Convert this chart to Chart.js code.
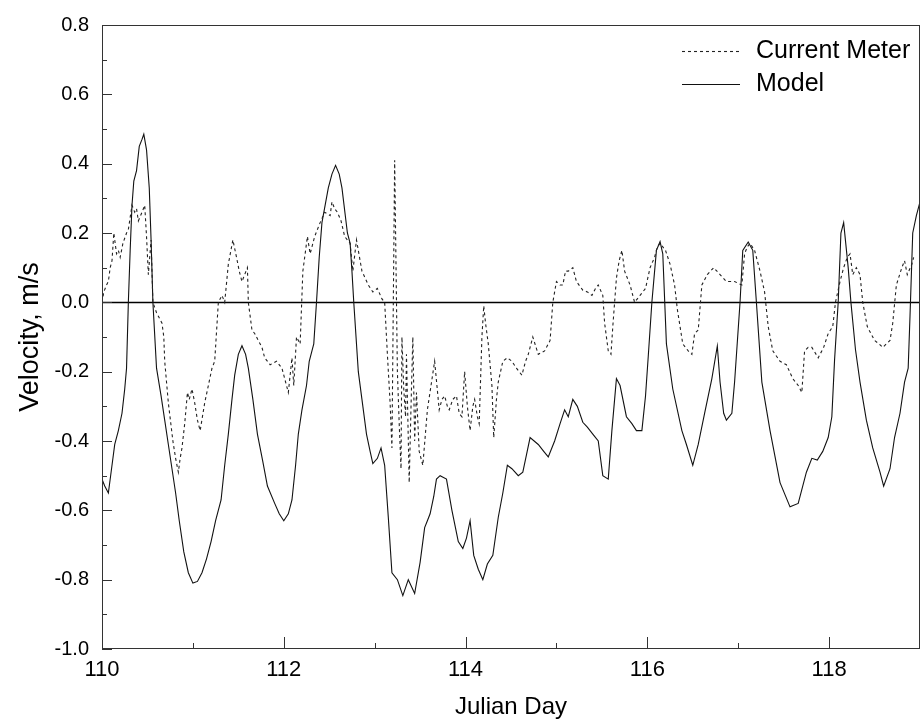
<!DOCTYPE html>
<html><head><meta charset="utf-8">
<script src="https://cdn.jsdelivr.net/npm/chart.js@4.4.1/dist/chart.umd.min.js"></script>
<style>html,body{margin:0;padding:0;background:#fff;}#wrap{width:923px;height:724px;}</style>
</head><body><div id="wrap"><canvas id="c" width="923" height="724"></canvas></div>
<script>
const seriesNames = ['Current Meter', 'Model'];
const xTitle = 'Julian Day';
const yTitle = 'Velocity, m/s';
const xTickValues = [110, 112, 114, 116, 118];
const xMinorValues = [111, 113, 115, 117];
const yTickValues = [-1.0, -0.8, -0.6, -0.4, -0.2, 0.0, 0.2, 0.4, 0.6, 0.8];
const yMinorValues = [-0.9, -0.7, -0.5, -0.3, -0.1, 0.1, 0.3, 0.5, 0.7];

const dayCM = [110.00,110.02,110.05,110.07,110.09,110.11,110.13,110.16,110.18,110.20,110.23,110.27,110.29,110.33,110.36,110.38,110.40,110.44,110.47,110.49,110.51,110.54,110.56,110.60,110.64,110.66,110.68,110.69,110.73,110.78,110.81,110.84,110.86,110.88,110.91,110.94,110.96,110.99,111.02,111.05,111.08,111.13,111.17,111.21,111.24,111.28,111.32,111.35,111.39,111.44,111.48,111.51,111.54,111.57,111.60,111.61,111.65,111.68,111.72,111.76,111.79,111.85,111.92,111.98,112.01,112.05,112.09,112.11,112.14,112.18,112.21,112.26,112.29,112.34,112.40,112.45,112.51,112.53,112.56,112.59,112.63,112.67,112.73,112.76,112.80,112.86,112.93,112.98,113.03,113.08,113.11,113.14,113.17,113.19,113.22,113.25,113.27,113.29,113.30,113.32,113.34,113.35,113.38,113.40,113.42,113.44,113.46,113.49,113.53,113.58,113.62,113.66,113.71,113.74,113.77,113.80,113.82,113.86,113.90,113.93,113.96,113.99,114.02,114.05,114.08,114.10,114.13,114.15,114.18,114.20,114.22,114.25,114.29,114.31,114.34,114.36,114.41,114.46,114.51,114.56,114.62,114.66,114.69,114.74,114.80,114.87,114.93,114.96,115.00,115.04,115.07,115.10,115.13,115.18,115.22,115.29,115.34,115.39,115.43,115.46,115.51,115.53,115.57,115.60,115.62,115.66,115.69,115.72,115.75,115.81,115.86,115.92,115.98,116.03,116.08,116.11,116.14,116.17,116.20,116.25,116.30,116.33,116.36,116.39,116.45,116.49,116.52,116.56,116.60,116.66,116.73,116.80,116.87,116.96,117.04,117.07,117.10,117.13,117.18,117.24,117.29,117.33,117.38,117.46,117.53,117.60,117.66,117.70,117.73,117.77,117.81,117.88,117.94,117.99,118.04,118.07,118.12,118.16,118.20,118.23,118.26,118.30,118.34,118.37,118.42,118.46,118.50,118.55,118.59,118.63,118.67,118.70,118.74,118.80,118.83,118.86,118.91,118.93];
const velCM = [0.00,0.03,0.05,0.06,0.10,0.12,0.20,0.14,0.15,0.13,0.17,0.20,0.21,0.28,0.26,0.27,0.235,0.26,0.28,0.19,0.08,0.18,0.00,-0.03,-0.05,-0.06,-0.10,-0.17,-0.29,-0.40,-0.45,-0.49,-0.45,-0.42,-0.35,-0.26,-0.28,-0.25,-0.29,-0.34,-0.37,-0.29,-0.24,-0.19,-0.17,0.00,0.02,0.00,0.11,0.18,0.13,0.09,0.06,0.08,0.10,0.00,-0.08,-0.09,-0.11,-0.13,-0.16,-0.18,-0.17,-0.19,-0.22,-0.26,-0.16,-0.24,-0.10,-0.12,0.09,0.19,0.14,0.19,0.23,0.26,0.25,0.29,0.27,0.26,0.235,0.19,0.17,0.09,0.18,0.09,0.05,0.03,0.04,0.01,0.00,-0.15,-0.29,-0.42,0.41,-0.20,-0.35,-0.48,-0.10,-0.25,-0.33,-0.15,-0.52,-0.30,-0.10,-0.40,-0.26,-0.43,-0.47,-0.31,-0.24,-0.17,-0.31,-0.28,-0.27,-0.30,-0.31,-0.28,-0.27,-0.32,-0.33,-0.20,-0.30,-0.37,-0.30,-0.28,-0.33,-0.35,-0.10,-0.01,-0.06,-0.12,-0.24,-0.39,-0.28,-0.23,-0.17,-0.16,-0.17,-0.19,-0.21,-0.17,-0.15,-0.10,-0.15,-0.14,-0.11,0.00,0.06,0.05,0.05,0.09,0.09,0.10,0.06,0.035,0.03,0.02,0.04,0.05,0.02,-0.06,-0.14,-0.15,-0.07,0.07,0.12,0.15,0.09,0.05,0.00,0.02,0.04,0.10,0.13,0.16,0.17,0.16,0.15,0.11,0.05,-0.02,-0.07,-0.12,-0.14,-0.15,-0.09,-0.08,0.05,0.08,0.10,0.08,0.06,0.06,0.05,0.14,0.16,0.17,0.15,0.09,0.03,-0.07,-0.14,-0.17,-0.18,-0.22,-0.24,-0.26,-0.14,-0.13,-0.13,-0.16,-0.13,-0.09,-0.07,0.00,0.06,0.10,0.13,0.14,0.08,0.10,0.08,0.00,-0.07,-0.09,-0.11,-0.12,-0.13,-0.12,-0.11,-0.06,0.05,0.10,0.12,0.08,0.11,0.13];

const dayModel = [110.00,110.03,110.07,110.10,110.14,110.18,110.22,110.25,110.27,110.29,110.31,110.33,110.35,110.38,110.41,110.44,110.46,110.49,110.52,110.54,110.56,110.60,110.65,110.69,110.73,110.77,110.81,110.85,110.90,110.95,111.00,111.05,111.10,111.15,111.20,111.25,111.31,111.35,111.39,111.43,111.46,111.50,111.54,111.58,111.61,111.66,111.71,111.77,111.82,111.90,111.95,112.00,112.05,112.09,112.13,112.16,112.20,112.25,112.28,112.31,112.33,112.36,112.39,112.42,112.49,112.53,112.57,112.61,112.64,112.70,112.73,112.75,112.77,112.82,112.86,112.91,112.95,112.98,113.03,113.07,113.11,113.15,113.19,113.25,113.31,113.37,113.44,113.50,113.55,113.58,113.61,113.65,113.68,113.72,113.79,113.85,113.92,113.97,114.01,114.05,114.09,114.14,114.19,114.24,114.30,114.36,114.41,114.46,114.51,114.58,114.63,114.67,114.71,114.80,114.86,114.91,114.98,115.04,115.09,115.13,115.18,115.23,115.29,115.34,115.40,115.46,115.51,115.57,115.61,115.66,115.70,115.77,115.83,115.88,115.94,115.98,116.01,116.05,116.10,116.14,116.17,116.21,116.28,116.38,116.43,116.50,116.56,116.63,116.71,116.77,116.80,116.84,116.87,116.93,116.96,117.02,117.05,117.11,117.16,117.20,117.26,117.35,117.46,117.57,117.66,117.75,117.81,117.87,117.93,117.99,118.03,118.06,118.10,118.13,118.16,118.21,118.24,118.29,118.34,118.41,118.48,118.56,118.60,118.67,118.72,118.78,118.83,118.87,118.89,118.92,118.96,119.00];
const velModel = [-0.51,-0.53,-0.55,-0.49,-0.41,-0.37,-0.32,-0.25,-0.19,0.00,0.15,0.28,0.35,0.38,0.45,0.47,0.485,0.44,0.33,0.18,0.00,-0.19,-0.27,-0.34,-0.41,-0.48,-0.55,-0.63,-0.72,-0.78,-0.81,-0.805,-0.78,-0.74,-0.69,-0.63,-0.57,-0.47,-0.38,-0.28,-0.21,-0.15,-0.125,-0.15,-0.19,-0.28,-0.38,-0.46,-0.53,-0.58,-0.61,-0.63,-0.61,-0.57,-0.47,-0.38,-0.31,-0.24,-0.17,-0.14,-0.12,0.00,0.13,0.23,0.33,0.37,0.395,0.37,0.33,0.20,0.17,0.09,0.00,-0.20,-0.28,-0.38,-0.43,-0.465,-0.45,-0.42,-0.47,-0.62,-0.78,-0.80,-0.846,-0.80,-0.84,-0.75,-0.65,-0.63,-0.61,-0.56,-0.51,-0.50,-0.51,-0.60,-0.69,-0.71,-0.68,-0.63,-0.73,-0.77,-0.80,-0.755,-0.73,-0.62,-0.55,-0.47,-0.48,-0.50,-0.49,-0.44,-0.39,-0.41,-0.43,-0.446,-0.40,-0.35,-0.31,-0.33,-0.28,-0.30,-0.346,-0.36,-0.38,-0.40,-0.50,-0.51,-0.37,-0.22,-0.24,-0.33,-0.35,-0.37,-0.37,-0.27,-0.156,0.00,0.15,0.175,0.14,-0.12,-0.25,-0.37,-0.41,-0.47,-0.41,-0.32,-0.22,-0.126,-0.23,-0.32,-0.34,-0.32,-0.23,0.00,0.15,0.174,0.15,0.00,-0.23,-0.37,-0.52,-0.59,-0.58,-0.49,-0.45,-0.455,-0.43,-0.39,-0.33,-0.166,0.00,0.20,0.23,0.10,0.00,-0.136,-0.23,-0.34,-0.42,-0.49,-0.53,-0.48,-0.39,-0.32,-0.23,-0.19,-0.04,0.20,0.25,0.29];

const FONT = '"Liberation Sans", Arial, Helvetica, sans-serif';
const toPts = (xs, ys) => xs.map((d, i) => ({x: d, y: ys[i]}));

const framePlugin = {
  id: 'framePlugin',
  beforeDatasetsDraw(chart) {
    const {ctx, chartArea: a, scales: {y}} = chart;
    const py = Math.round(y.getPixelForValue(0)) + 0.5;
    ctx.save();
    ctx.strokeStyle = '#000'; ctx.lineWidth = 1.3;
    ctx.beginPath(); ctx.moveTo(a.left, py); ctx.lineTo(a.right, py); ctx.stroke();
    ctx.restore();
  },
  afterDraw(chart) {
    const {ctx, chartArea: a, scales: {x, y}} = chart;
    ctx.save();
    ctx.strokeStyle = '#333'; ctx.lineWidth = 1;
    ctx.strokeRect(a.left + 0.5, a.top + 0.5, a.right - a.left - 1, a.bottom - a.top - 1);
    ctx.beginPath();
    xTickValues.forEach(v => { const p = Math.round(x.getPixelForValue(v)) + 0.5; ctx.moveTo(p, a.bottom); ctx.lineTo(p, a.bottom - 12); });
    xMinorValues.forEach(v => { const p = Math.round(x.getPixelForValue(v)) + 0.5; ctx.moveTo(p, a.bottom); ctx.lineTo(p, a.bottom - 6); });
    yTickValues.forEach(v => { const p = Math.round(y.getPixelForValue(v)) + 0.5; ctx.moveTo(a.left, p); ctx.lineTo(a.left + 10, p); });
    yMinorValues.forEach(v => { const p = Math.round(y.getPixelForValue(v)) + 0.5; ctx.moveTo(a.left, p); ctx.lineTo(a.left + 5, p); });
    ctx.stroke();
    // legend
    const ds = chart.data.datasets;
    ctx.font = '25px ' + FONT;
    ctx.fillStyle = '#000';
    ctx.textBaseline = 'middle';
    ctx.textAlign = 'left';
    ds.forEach((d, i) => {
      const ly = a.top + 26 + i * 33;
      ctx.save();
      ctx.strokeStyle = d.borderColor; ctx.lineWidth = d.borderWidth;
      ctx.setLineDash(d.borderDash || []);
      ctx.beginPath(); ctx.moveTo(a.right - 238, ly + 0.5); ctx.lineTo(a.right - 180, ly + 0.5); ctx.stroke();
      ctx.restore();
      ctx.fillText(d.label, a.right - 164, ly);
    });
    ctx.restore();
  }
};

new Chart(document.getElementById('c'), {
  type: 'line',
  data: {
    datasets: [
      {label: seriesNames[0], data: toPts(dayCM, velCM), borderColor: '#222', borderWidth: 1.1, borderDash: [3, 3], pointRadius: 0, tension: 0, fill: false},
      {label: seriesNames[1], data: toPts(dayModel, velModel), borderColor: '#111', borderWidth: 1.1, pointRadius: 0, tension: 0, fill: false}
    ]
  },
  options: {
    responsive: false, devicePixelRatio: 1, animation: false,
    layout: {padding: {top: 19, right: 3, left: 0, bottom: 0}},
    plugins: {legend: {display: false}, tooltip: {enabled: false}},
    scales: {
      x: {
        type: 'linear', min: 110, max: 119,
        afterBuildTicks: s => { s.ticks = xTickValues.map(v => ({value: v})); },
        afterFit: s => { s.height = 75; },
        grid: {display: false, drawTicks: false}, border: {display: false},
        ticks: {font: {family: FONT, size: 22}, color: '#000', padding: 8, maxRotation: 0, autoSkip: false, callback: v => String(v)},
        title: {display: true, text: xTitle, color: '#000', font: {family: FONT, size: 24}, padding: {top: 0, bottom: 2}}
      },
      y: {
        type: 'linear', min: -1.0, max: 0.8,
        afterBuildTicks: s => { s.ticks = yTickValues.map(v => ({value: v})); },
        afterFit: s => { s.width = 102; },
        grid: {display: false, drawTicks: false}, border: {display: false},
        ticks: {font: {family: FONT, size: 20}, color: '#000', padding: 13, autoSkip: false, callback: v => Number(v).toFixed(1)},
        title: {display: true, text: yTitle, color: '#000', font: {family: FONT, size: 27}, padding: {top: 14, bottom: 0}}
      }
    }
  },
  plugins: [framePlugin]
});
</script>
</body></html>
